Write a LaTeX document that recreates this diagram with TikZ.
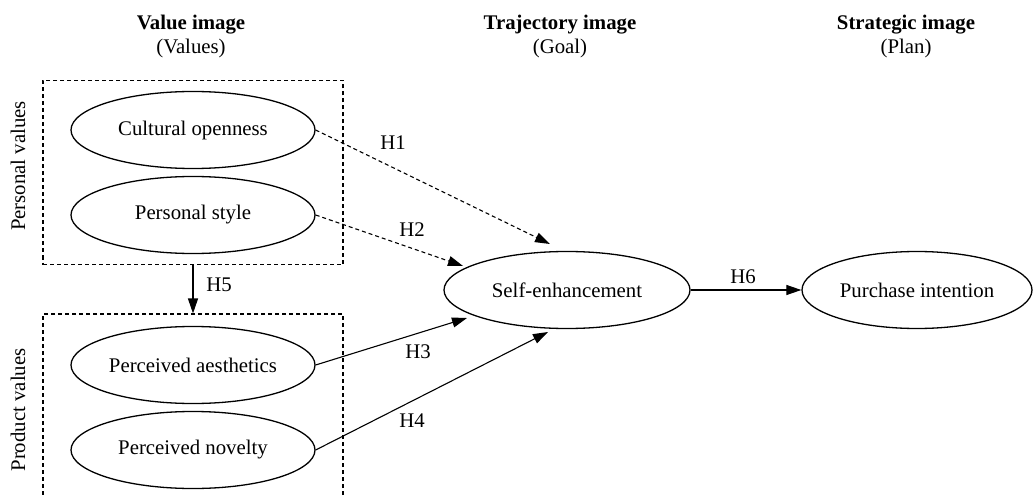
\documentclass[tikz,border=0pt]{standalone}
\usepackage{fontspec}
\setmainfont{Liberation Serif}
\usetikzlibrary{arrows.meta,shapes.geometric}
\begin{document}
\begin{tikzpicture}[x=1pt,y=-1pt,
  font=\fontsize{20.8}{24}\selectfont,
  construct/.style={ellipse,draw,line width=1.3pt,minimum width=244pt,minimum height=77pt,inner sep=0pt},
  groupbox/.style={draw,line width=1.1pt,dash pattern=on 4pt off 3pt},
  arr/.style={line width=1.1pt,-{Triangle[length=15pt,width=10pt]}},
  darr/.style={arr,dash pattern=on 4pt off 3pt},
  hlabel/.style={inner sep=0pt},
  header/.style={align=center,inner sep=0pt}]
\useasboundingbox (0,0) rectangle (1035,497);
\clip (0,0) rectangle (1035,497);
% headers
\node[header] (h1) at (191,25) {\textbf{Value image}};
\node[header] (h1b) at (191,49) {(Values)};
\node[header] (h2) at (560,25) {\textbf{Trajectory image}};
\node[header] (h2b) at (560,49) {(Goal)};
\node[header] (h3) at (906,25) {\textbf{Strategic image}};
\node[header] (h3b) at (906,49) {(Plan)};
% group boxes
\node[groupbox,minimum width=300pt,minimum height=184pt,inner sep=0pt] (pv) at (193,172.5) {};
\node[groupbox,minimum width=300pt,minimum height=196pt,inner sep=0pt] (prv) at (193,412) {};
\node[rotate=90,inner sep=0pt] (pvl) at (18,166) {Personal values};
\node[rotate=90,inner sep=0pt] (prvl) at (18,410) {Product values};
% constructs
\node[construct] (co) at (193,130) {Cultural openness};
\node[construct] (ps) at (193,215) {Personal style};
\node[construct] (pa) at (193,365) {Perceived aesthetics};
\node[construct] (pn) at (193,450) {Perceived novelty};
\node[construct,minimum width=246pt] (se) at (567,290) {Self-enhancement};
\node[construct,minimum width=230pt] (pi) at (917,290) {Purchase intention};
% arrow tips
\coordinate (t1) at (550,244);
\coordinate (t2) at (463,266);
\coordinate (t3) at (467,318);
\coordinate (t4) at (548,332);
% connectors
\draw[darr] (co.east) -- (t1);
\draw[darr] (ps.east) -- (t2);
\draw[arr] (pa.east) -- (t3);
\draw[arr] (pn.east) -- (t4);
\draw[arr] (se.east) -- (pi.west);
\draw[arr] (pv.south) -- (prv.north);
% labels
\node[hlabel] (l1) at (393,143) {H1};
\node[hlabel] (l2) at (412,230) {H2};
\node[hlabel] (l3) at (418,352) {H3};
\node[hlabel] (l4) at (412,421) {H4};
\node[hlabel] (l5) at (219,285) {H5};
\node[hlabel] (l6) at (743,277) {H6};
\end{tikzpicture}
\end{document}
